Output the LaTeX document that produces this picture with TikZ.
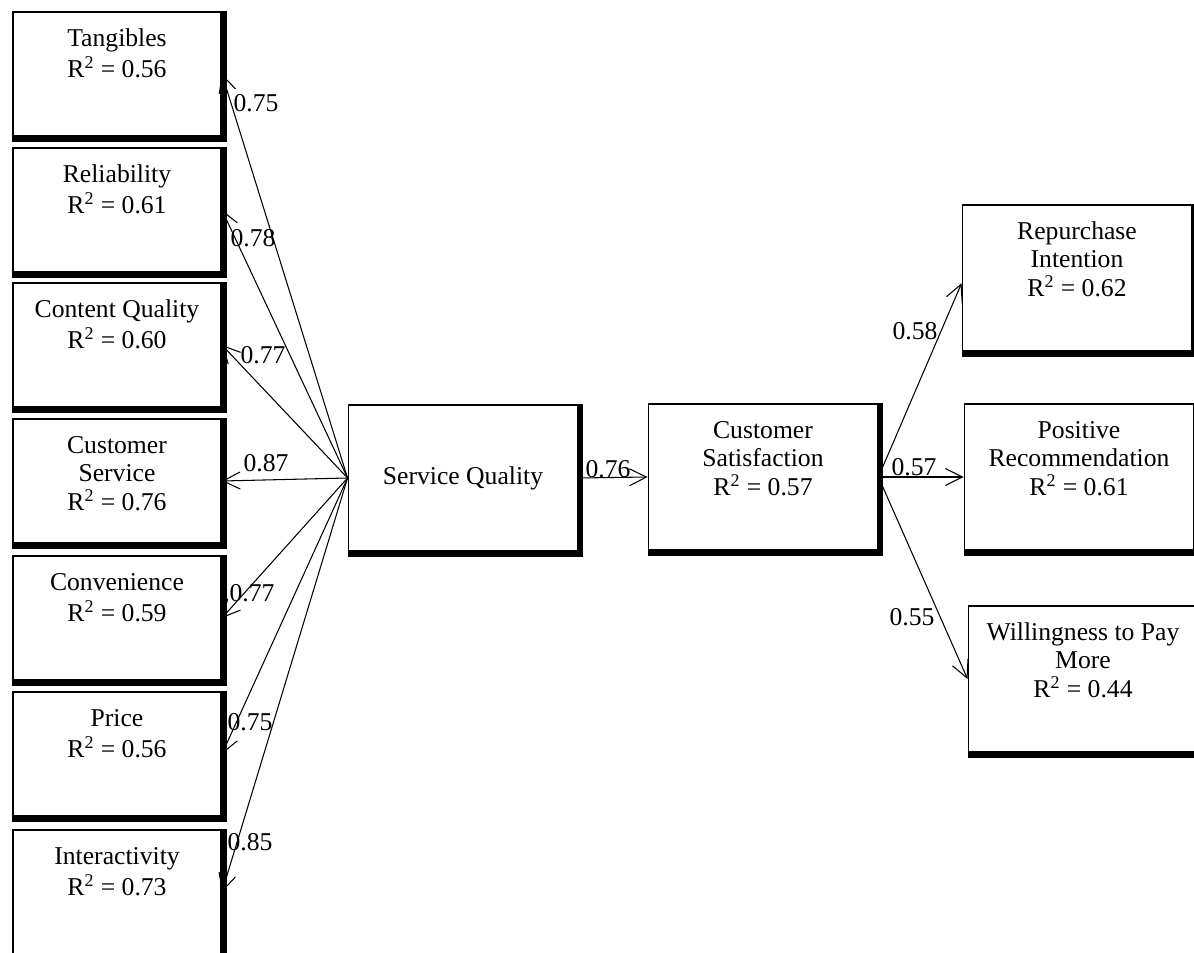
\documentclass[tikz,border=0pt]{standalone}
\usepackage{fontspec}
\setmainfont{Liberation Serif}
\usetikzlibrary{arrows.meta}

\newcommand{\toptext}[2]{\parbox[c][#1][t]{4cm}{\centering\vspace*{0.28cm}\strut #2}}
\newcommand{\rsq}{R\textsuperscript{2}}

\tikzset{
  construct/.style={draw, line width=1.1pt, inner sep=0pt, minimum width=4.16cm, minimum height=2.48cm, font=\fontsize{14.6}{16.4}\selectfont},
  wide/.style={minimum width=4.58cm, minimum height=2.92cm},
  ld/.style={line width=0.6pt, -{Straight Barb[length=3.4mm,width=3.4mm]}},
  coef/.style={inner sep=0pt, font=\fontsize{14.6}{16.4}\selectfont},
}

\begin{document}
\begin{tikzpicture}[x=0.02cm, y=-0.02cm]
    \useasboundingbox (0,0) rectangle (1194,953);
    % dimensions of service quality
    \node[construct] (tang) at (117,74) {\toptext{2.48cm}{Tangibles\\\rsq{} = 0.56}};
    \node[construct] (reli) at (117,210) {\toptext{2.48cm}{Reliability\\\rsq{} = 0.61}};
    \node[construct] (cont) at (117,345) {\toptext{2.48cm}{Content Quality\\\rsq{} = 0.60}};
    \node[construct] (cust) at (117,481) {\toptext{2.48cm}{Customer\\Service\\\rsq{} = 0.76}};
    \node[construct] (conv) at (117,618) {\toptext{2.48cm}{Convenience\\\rsq{} = 0.59}};
    \node[construct] (price) at (117,754) {\toptext{2.48cm}{Price\\\rsq{} = 0.56}};
    \node[construct] (inter) at (117,892) {\toptext{2.48cm}{Interactivity\\\rsq{} = 0.73}};
    % middle
    \node[construct, wide] (sq) at (463,478) {Service Quality};
    \node[construct, wide] (cs) at (763,477) {\toptext{2.92cm}{Customer\\Satisfaction\\\rsq{} = 0.57}};
    % outcomes
    \node[construct, wide] (rep) at (1077,278) {\toptext{2.92cm}{Repurchase\\Intention\\\rsq{} = 0.62}};
    \node[construct, wide] (pos) at (1079,477) {\toptext{2.92cm}{Positive\\Recommendation\\\rsq{} = 0.61}};
    \node[construct, wide] (will) at (1083,679) {\toptext{2.92cm}{Willingness to Pay\\More\\\rsq{} = 0.44}};
    % heavy right and bottom edges
    \foreach \n in {tang,reli,cont,cust,conv,price,inter,sq,cs,rep,pos,will}
        \draw[line width=3.2pt] ([xshift=1.2pt]\n.north east) -- ([shift={(1.2pt,-1.2pt)}]\n.south east) -- ([yshift=-1.2pt]\n.south west);
    % loadings
    \foreach \n in {tang,reli,cont,cust,conv,price,inter}
        \draw[ld] (sq.west) -- (\n.east);
    \draw[ld] (sq.east) -- (cs.west);
    \draw[ld] (cs.east) -- ([yshift=-3pt]rep.west);
    \draw[ld] (cs.east) -- (pos.west);
    \draw[ld] (cs.east) -- (will.west);
    % coefficients
    \node[coef] (cTang) at (256,103) {0.75};
    \node[coef] (cReli) at (253,238) {0.78};
    \node[coef] (cCont) at (263,355) {0.77};
    \node[coef] (cCust) at (266,463) {0.87};
    \node[coef] (cConv) at (252,593) {0.77};
    \node[coef] (cPrice) at (250,722) {0.75};
    \node[coef] (cInter) at (250,842) {0.85};
    \node[coef] (cSat) at (608,469) {0.76};
    \node[coef] (cRep) at (915,331) {0.58};
    \node[coef] (cPos) at (914,467) {0.57};
    \node[coef] (cWill) at (912,617) {0.55};
\end{tikzpicture}
\end{document}
